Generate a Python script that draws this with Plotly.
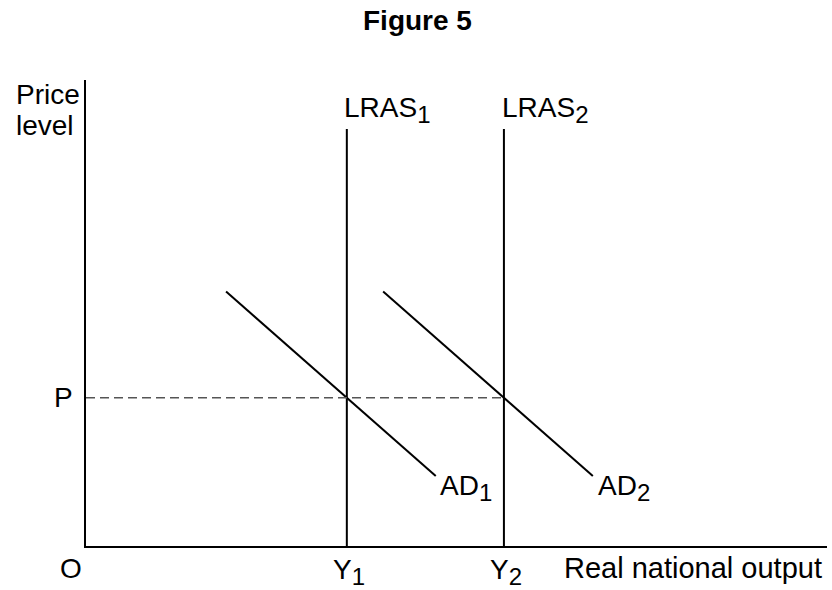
import plotly.graph_objects as go

# Data (abstract units, axis range 0-100)
y1_output = 35.2
y2_output = 56.4
p_level = 31.8
lras_top = 89.5
ad1_x = [18.9, 47.2]
ad1_y = [54.6, 15.0]
ad2_x = [40.1, 68.4]
ad2_y = [54.6, 15.0]

FONT = "Arial, Liberation Sans, sans-serif"
FS = 28
SUB = '<sub><span style="font-size:24px">{}</span></sub>'

fig = go.Figure()
line = dict(color="black", width=2)
fig.add_trace(go.Scatter(x=[y1_output, y1_output], y=[0, lras_top], mode="lines", line=line))
fig.add_trace(go.Scatter(x=[y2_output, y2_output], y=[0, lras_top], mode="lines", line=line))
fig.add_trace(go.Scatter(x=ad1_x, y=ad1_y, mode="lines", line=line))
fig.add_trace(go.Scatter(x=ad2_x, y=ad2_y, mode="lines", line=line))
fig.add_trace(go.Scatter(x=[0, y2_output], y=[p_level, p_level], mode="lines",
                         line=dict(color="#555555", width=1.5, dash="9px,5px")))

def ann(text, x, y, xa="left", ya="middle", bold=False, size=FS):
    fig.add_annotation(text=f"<b>{text}</b>" if bold else text, x=x / 100, y=y / 100,
                       xref="paper", yref="paper",
                       xanchor=xa, yanchor=ya, showarrow=False,
                       font=dict(family=FONT, size=size, color="black"))

ann("Figure 5", 44.8, 112.7, xa="center", bold=True)
ann("Price", -9.72, 96.8)
ann("level", -9.72, 90.3)
ann("LRAS" + SUB.format(1), 34.5, 93.6)
ann("LRAS" + SUB.format(2), 55.9, 93.6)
ann("AD" + SUB.format(1), 47.5, 12.4)
ann("AD" + SUB.format(2), 68.8, 12.4)
ann("P", -1.48, p_level, xa="right")
ann("O", -2.0, -4.8, xa="center")
ann("Y" + SUB.format(1), 33.1, -5.5)
ann("Y" + SUB.format(2), 54.3, -5.5)
ann("Real national output", 64.3, -4.7, size=29)

fig.update_layout(
    width=832, height=590,
    margin=dict(l=86, r=5, t=80, b=44),
    plot_bgcolor="white", paper_bgcolor="white",
    showlegend=False,
    hovermode=False,
    xaxis=dict(range=[0, 100], showline=True, linecolor="black", linewidth=2,
               showgrid=False, zeroline=False, showticklabels=False, ticks=""),
    yaxis=dict(range=[0, 100], showline=True, linecolor="black", linewidth=2,
               showgrid=False, zeroline=False, showticklabels=False, ticks=""),
)
fig.write_html("out.html", config={"displayModeBar": False},
               post_script="document.body.style.margin='0';document.body.style.overflow='hidden';")
